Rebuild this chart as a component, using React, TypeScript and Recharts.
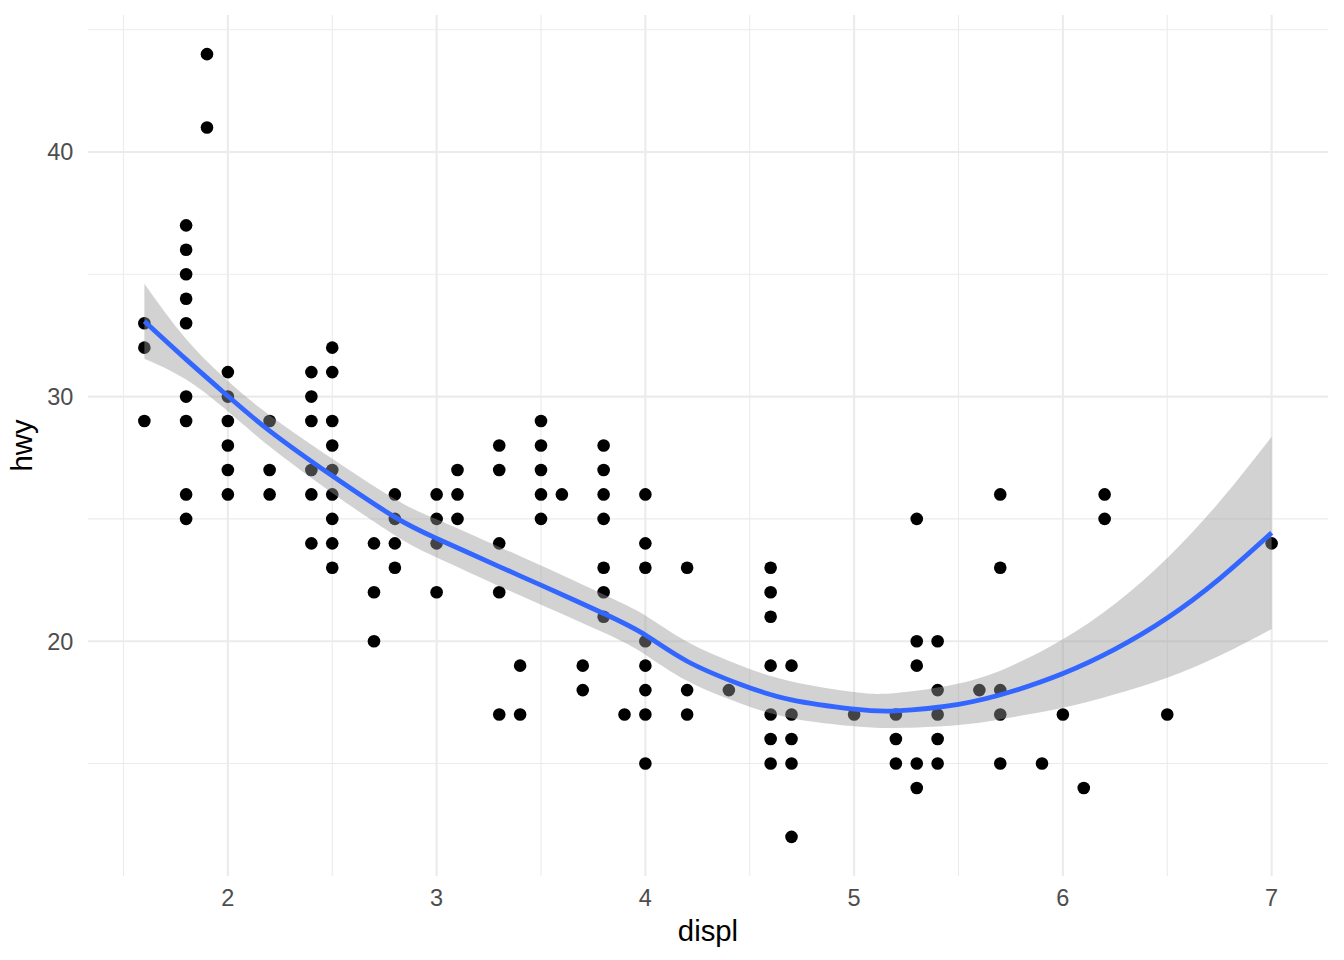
import { ComposedChart, Scatter, Area, Line, XAxis, YAxis, ReferenceLine, Label } from 'recharts'

// hwy values observed at each displ (mpg data, duplicates dropped)
const pointGroups: [number, number[]][] = [
  [1.6, [33, 32, 29]],
  [1.8, [37, 36, 35, 34, 33, 30, 29, 26, 25]],
  [1.9, [44, 41]],
  [2.0, [31, 30, 29, 28, 27, 26]],
  [2.2, [29, 27, 26]],
  [2.4, [31, 30, 29, 27, 26, 24]],
  [2.5, [32, 31, 29, 28, 27, 26, 25, 24, 23]],
  [2.7, [24, 22, 20]],
  [2.8, [26, 25, 24, 23]],
  [3.0, [26, 25, 24, 22]],
  [3.1, [27, 26, 25]],
  [3.3, [28, 27, 24, 22, 17]],
  [3.4, [19, 17]],
  [3.5, [29, 28, 27, 26, 25]],
  [3.6, [26]],
  [3.7, [19, 18]],
  [3.8, [28, 27, 26, 25, 23, 22, 21]],
  [3.9, [17]],
  [4.0, [26, 24, 23, 20, 19, 18, 17, 15]],
  [4.2, [23, 18, 17]],
  [4.4, [18]],
  [4.6, [23, 22, 21, 19, 17, 16, 15]],
  [4.7, [19, 17, 16, 15, 12]],
  [5.0, [17]],
  [5.2, [17, 16, 15]],
  [5.3, [25, 20, 19, 15, 14]],
  [5.4, [20, 18, 17, 16, 15]],
  [5.6, [18]],
  [5.7, [26, 23, 18, 17, 15]],
  [5.9, [15]],
  [6.0, [17]],
  [6.1, [14]],
  [6.2, [26, 25]],
  [6.5, [17]],
  [7.0, [24]],
]

// loess fit + confidence band
const smoothX = [1.6, 1.8, 2.0, 2.2, 2.5, 2.8, 3.0, 3.3, 3.5, 3.8, 4.0, 4.2, 4.45, 4.7, 5.0, 5.2, 5.5, 5.75, 6.0, 6.25, 6.5, 6.75, 7.0]
const smoothFit = [33.08, 31.52, 30.02, 28.6, 26.76, 25.07, 24.2, 23.05, 22.29, 21.13, 20.25, 19.18, 18.25, 17.6, 17.22, 17.15, 17.42, 17.93, 18.68, 19.68, 20.95, 22.55, 24.43]
const smoothLo = [31.55, 30.7, 29.4, 27.96, 26.06, 24.33, 23.42, 22.25, 21.49, 20.35, 19.45, 18.38, 17.47, 16.85, 16.52, 16.45, 16.57, 16.88, 17.28, 17.83, 18.5, 19.4, 20.5]
const smoothHi = [34.61, 32.35, 30.64, 29.24, 27.46, 25.81, 24.98, 23.85, 23.09, 21.91, 21.05, 19.98, 19.03, 18.35, 17.92, 17.88, 18.27, 18.98, 20.08, 21.53, 23.4, 25.7, 28.36]

const xMajor = [2, 3, 4, 5, 6, 7]
const xMinor = [1.5, 2.5, 3.5, 4.5, 5.5, 6.5]
const yMajor = [20, 30, 40]
const yMinor = [15, 25, 35, 45]

const points = pointGroups.flatMap(([displ, hs]) => hs.map((hwy) => ({ displ, hwy })))
const smooth = smoothX.map((displ, i) => ({ displ, fit: smoothFit[i], band: [smoothLo[i], smoothHi[i]] }))

const FONT = '"Liberation Sans", Arial, Helvetica, sans-serif'
const GRID = '#EBEBEB'

const Dot = (p: any) => <circle cx={p.cx} cy={p.cy} r={6.3} fill="#000" />

export default function App() {
  return (
    <div style={{ position: 'absolute', left: 0, top: 0 }}>
      <ComposedChart width={1344} height={960} data={smooth} margin={{ top: 15, right: 16, bottom: 0, left: 0 }}>
        {xMinor.map((v) => <ReferenceLine key={'xm' + v} x={v} stroke={GRID} strokeWidth={1.1} zIndex={-50} />)}
        {yMinor.map((v) => <ReferenceLine key={'ym' + v} y={v} stroke={GRID} strokeWidth={1.1} zIndex={-50} />)}
        {xMajor.map((v) => <ReferenceLine key={'xM' + v} x={v} stroke={GRID} strokeWidth={2.1} zIndex={-50} />)}
        {yMajor.map((v) => <ReferenceLine key={'yM' + v} y={v} stroke={GRID} strokeWidth={2.1} zIndex={-50} />)}
        <XAxis dataKey="displ" type="number" domain={[1.33, 7.27]} ticks={xMajor} height={84}
          axisLine={false} tickLine={false} tickSize={0} tickMargin={13}
          tick={{ fontSize: 23.5, fill: '#4D4D4D', fontFamily: FONT }}>
          <Label content={({ viewBox }: any) => (
            <text x={viewBox.x + viewBox.width / 2} y={941} textAnchor="middle"
              fontSize={29.3} fontFamily={FONT} fill="#000">displ</text>
          )} />
        </XAxis>
        <YAxis type="number" domain={[10.4, 45.6]} ticks={yMajor} width={88}
          axisLine={false} tickLine={false} tickSize={0} tickMargin={14.7}
          tick={{ fontSize: 23.5, fill: '#4D4D4D', fontFamily: FONT }}>
          <Label content={({ viewBox }: any) => {
            const cy = viewBox.y + viewBox.height / 2
            return (
              <text x={32} y={cy} transform={`rotate(-90 32 ${cy})`} textAnchor="middle"
                fontSize={29.3} fontFamily={FONT} fill="#000">hwy</text>
            )
          }} />
        </YAxis>
        <Scatter data={points} dataKey="hwy" shape={Dot} isAnimationActive={false} zIndex={500} />
        <Area dataKey="band" type="natural" fill="#999999" fillOpacity={0.44} stroke="none" isAnimationActive={false} zIndex={700} />
        <Line dataKey="fit" type="natural" stroke="#3366FF" strokeWidth={4.8} dot={false} isAnimationActive={false} zIndex={800} />
      </ComposedChart>
    </div>
  )
}
